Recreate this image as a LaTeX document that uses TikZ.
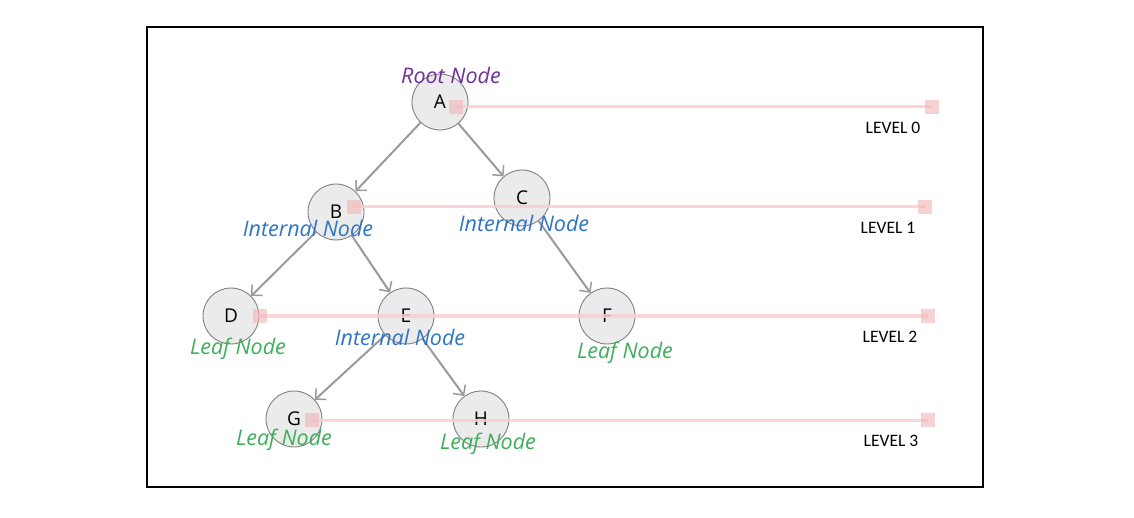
\documentclass[tikz,border=0pt]{standalone}
\usepackage{fontspec}
\setmainfont{Carlito}
\newfontfamily\segoe{Open Sans}
\usetikzlibrary{arrows.meta}
\definecolor{rootc}{HTML}{7030A0}
\definecolor{intc}{HTML}{2E75C6}
\definecolor{leafc}{HTML}{3DAF5A}
\definecolor{edgec}{HTML}{9A9A9A}
\definecolor{lvlc}{HTML}{F7CFCF}
\definecolor{sqc}{HTML}{F2B5B5}
\tikzset{
  tnode/.style={circle, minimum size=56pt, inner sep=0pt, fill=black!8, draw=black!50, line width=0.9pt, font=\segoe\fontsize{19}{19}\selectfont},
  edge/.style={draw=edgec, line width=2pt, -{Straight Barb[length=7.5pt,width=15pt,line width=1.5pt]}},
  lvl/.style={draw=lvlc, line width=3pt, opacity=0.85},
  sq/.style={rectangle, minimum size=14pt, inner sep=0pt, fill=sqc, opacity=0.6},
  lbl/.style={font=\segoe\fontsize{21.5}{21.5}\selectfont\itshape},
  lvltext/.style={font=\fontsize{17.5}{17.5}\selectfont}
}
\begin{document}
\begin{tikzpicture}[x=1pt,y=-1pt]
\fill[white] (0,0) rectangle (1134,518);
\useasboundingbox (0,0) rectangle (1134,518);
\draw[line width=2pt] (147,27) rectangle (983,487);
% nodes
\node[tnode] (A) at (440,102) {A};
\node[tnode] (B) at (336,212) {B};
\node[tnode] (C) at (522,198) {C};
\node[tnode] (D) at (231,316) {D};
\node[tnode] (E) at (406,316) {E};
\node[tnode] (F) at (607,316) {F};
\node[tnode] (G) at (294,419) {G};
\node[tnode] (H) at (481,419) {H};
% edges
\draw[edge] (A) -- (B);
\draw[edge] (A) -- (C);
\draw[edge] (B) -- (D);
\draw[edge] (B) -- (E);
\draw[edge] (C) -- (F);
\draw[edge] (E) -- (G);
\draw[edge] (E) -- (H);
% level lines
\coordinate (l0s) at (456,107); \coordinate (l0e) at (932,107);
\coordinate (l1s) at (354,207); \coordinate (l1e) at (925,207);
\coordinate (l2s) at (260,316); \coordinate (l2e) at (928,316);
\coordinate (l3s) at (312,420); \coordinate (l3e) at (928,420);
\draw[lvl] (l0s) -- (l0e);
\draw[lvl] (l1s) -- (l1e);
\draw[lvl] (l2s) -- (l2e);
\draw[lvl] (l3s) -- (l3e);
\node[sq] (s0a) at (l0s) {}; \node[sq] (s0b) at (l0e) {};
\node[sq] (s1a) at (l1s) {}; \node[sq] (s1b) at (l1e) {};
\node[sq] (s2a) at (l2s) {}; \node[sq] (s2b) at (l2e) {};
\node[sq] (s3a) at (l3s) {}; \node[sq] (s3b) at (l3e) {};
\node[lvltext] (t0) at (893,128) {LEVEL 0};
\node[lvltext] (t1) at (888,228) {LEVEL 1};
\node[lvltext] (t2) at (890,337) {LEVEL 2};
\node[lvltext] (t3) at (891,441) {LEVEL 3};
% labels
\node[lbl, text=rootc] (rA) at (451,75) {Root Node};
\node[lbl, text=intc] (iB) at (308,228) {Internal Node};
\node[lbl, text=intc] (iC) at (524,223) {Internal Node};
\node[lbl, text=intc] (iE) at (400,337) {Internal Node};
\node[lbl, text=leafc] (fD) at (238,349) {Leaf Node};
\node[lbl, text=leafc] (fF) at (625,353) {Leaf Node};
\node[lbl, text=leafc] (fG) at (284,440) {Leaf Node};
\node[lbl, text=leafc] (fH) at (488,444) {Leaf Node};
\end{tikzpicture}
\end{document}
